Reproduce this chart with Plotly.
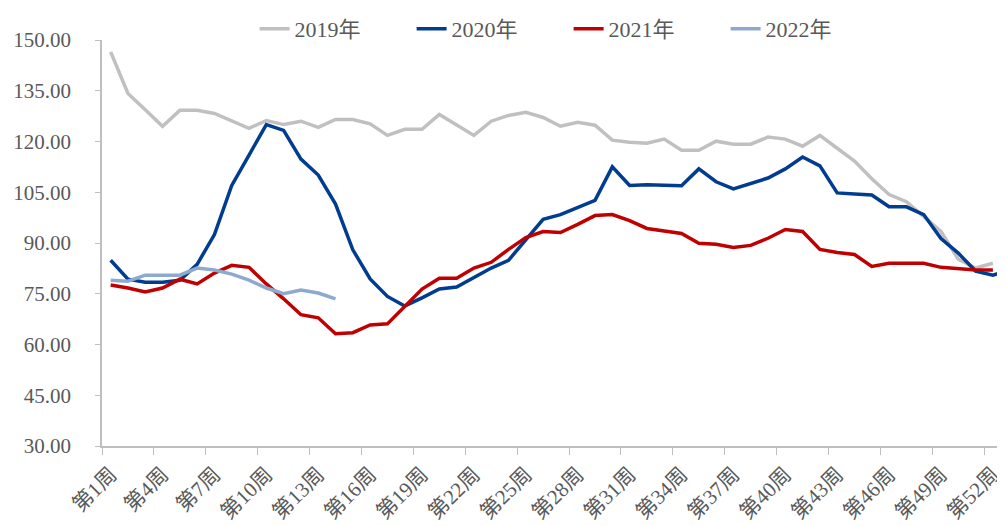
import plotly.graph_objects as go

weeks = [f"第{i}周" for i in range(1, 54)]

y2019 = [146.5, 134.2, 129.4, 124.5, 129.2, 129.2, 128.3, 126.0, 123.9, 126.2,
         125.0, 126.0, 124.2, 126.5, 126.5, 125.2, 121.8, 123.6, 123.6, 128.0,
         125.0, 121.8, 126.0, 127.7, 128.6, 127.1, 124.5, 125.7, 124.8, 120.4,
         119.8, 119.5, 120.7, 117.4, 117.4, 120.1, 119.2, 119.2, 121.3, 120.7,
         118.6, 121.8, 118.0, 114.2, 109.0, 104.3, 102.2, 97.8, 93.4, 85.2,
         82.6, 84.0]

y2020 = [84.9, 79.3, 78.4, 78.4, 79.0, 83.7, 92.5, 107.0, 116.0, 125.0,
         123.3, 114.8, 110.1, 101.5, 88.0, 79.4, 74.2, 71.4, 73.8, 76.4,
         77.0, 79.9, 82.6, 84.9, 91.1, 97.0, 98.4, 100.4, 102.6, 112.5,
         107.0, 107.2, 107.0, 106.9, 111.9, 108.1, 106.0, 107.5, 109.2, 111.9,
         115.4, 112.8, 104.8, 104.5, 104.2, 100.7, 100.7, 98.4, 91.3, 87.0,
         81.7, 80.5, 82.0]

y2021 = [77.6, 76.7, 75.5, 76.7, 79.3, 77.9, 81.1, 83.4, 82.8, 77.9,
         73.5, 68.8, 67.9, 63.2, 63.5, 65.8, 66.1, 71.1, 76.4, 79.6,
         79.6, 82.6, 84.3, 88.1, 91.6, 93.4, 93.1, 95.5, 98.1, 98.4,
         96.6, 94.3, 93.6, 92.8, 89.9, 89.6, 88.7, 89.3, 91.4, 94.0,
         93.4, 88.1, 87.2, 86.6, 83.1, 84.0, 84.0, 84.0, 82.8, 82.5,
         82.0, 82.0]

y2022 = [79.0, 78.7, 80.5, 80.5, 80.5, 82.6, 82.0, 80.8, 79.0, 76.7,
         75.0, 76.1, 75.2, 73.5]

series = [
    ("2019年", y2019, "#C0C0C0"),
    ("2020年", y2020, "#003C8F"),
    ("2021年", y2021, "#C00000"),
    ("2022年", y2022, "#8EA9CE"),
]

FONT = "Liberation Serif, Times New Roman, Noto Sans CJK SC, serif"
TXT = "#595959"
AX = "#BFBFBF"

fig = go.Figure()
for name, vals, col in series:
    fig.add_trace(go.Scatter(
        x=weeks[:len(vals)], y=vals, name=name, mode="lines",
        line=dict(color=col, width=3.5),
    ))

# page body has an 8px margin: the figure is sized/offset to compensate
fig.update_layout(
    width=997, height=518,
    margin=dict(l=94, r=0, t=29, b=80),
    paper_bgcolor="white", plot_bgcolor="white",
    font=dict(family=FONT, color=TXT, size=21),
    showlegend=True,
    legend=dict(orientation="h", x=0.169, xanchor="left", y=1.027, yanchor="middle",
                font=dict(size=22, color=TXT, family=FONT), bgcolor="rgba(0,0,0,0)",
                entrywidth=112, entrywidthmode="pixels", traceorder="normal"),
)
fig.update_xaxes(
    type="category", categoryorder="array", categoryarray=weeks,
    range=[-0.5, 51.7], tickmode="linear", tick0=0, dtick=3,
    tickson="boundaries", ticks="outside", ticklen=7, tickcolor=AX,
    showline=True, linecolor=AX, linewidth=1.5, showgrid=False, zeroline=False,
    tickangle=-45, tickfont=dict(size=21, color=TXT, family=FONT), automargin=False,
    ticklabelstandoff=6,
)
fig.update_yaxes(
    range=[30, 150], dtick=15, tick0=30, tickformat=".2f",
    ticks="outside", ticklen=5, tickcolor=AX,
    showline=True, linecolor=AX, linewidth=1.5, showgrid=False, zeroline=False,
    tickfont=dict(size=21, color=TXT, family=FONT), ticklabelstandoff=20,
    automargin=False,
)

fig.write_html("out.html")
